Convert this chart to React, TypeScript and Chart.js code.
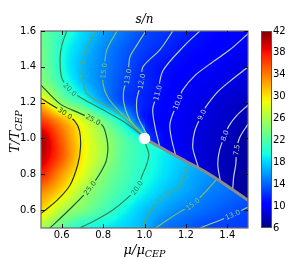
import React, { useEffect, useRef } from "react";
import { Chart, registerables } from "chart.js";

Chart.register(...registerables);

// ---------------- data ----------------
// field s/n sampled on a regular grid (mu/mu_CEP across, T/T_CEP down the rows, from T=0.5 up)
const muNodes = [0.5, 0.6, 0.7, 0.8, 0.9, 1.0, 1.1, 1.2, 1.3, 1.4, 1.5];
const tNodes = [0.5, 0.6, 0.7, 0.8, 0.9, 1.0, 1.1, 1.2, 1.3, 1.4, 1.5, 1.6];

// lower-T branch (and the smooth crossover region)
const snLower = [
  [26.0, 22.7, 19.9, 19.0, 18.0, 16.8, 14.6, 13.9, 12.9, 12.7, 12.5],
  [30.5, 26.3, 24.0, 21.7, 19.4, 17.4, 16.1, 14.95, 14.2, 13.5, 12.9],
  [33.5, 30.2, 25.8, 23.2, 21.05, 19.1, 17.4, 16.3, 15.1, 14.4, 13.7],
  [37.5, 32.9, 28.4, 24.4, 22.0, 20.0, 18.4, 16.9, 15.8, 14.8, 14.0],
  [40.0, 35.5, 29.7, 25.9, 22.3, 20.3, 18.7, 17.6, 16.5, 15.4, 14.5],
  [40.5, 35.0, 29.5, 25.7, 22.2, 19.5, 18.8, 17.8, 16.5, 15.5, 14.5],
  [36.5, 32.5, 28.0, 23.5, 18.7, 11.6, 10.3, 9.5, 8.85, 8.2, 7.5],
  [31.0, 24.6, 21.1, 16.5, 13.0, 11.6, 10.45, 9.75, 9.07, 8.5, 8.0],
  [25.0, 21.2, 17.6, 15.0, 13.0, 11.8, 10.8, 10.0, 9.5, 9.05, 8.7],
  [23.8, 19.9, 17.0, 15.1, 13.4, 11.9, 10.95, 10.5, 10.07, 9.5, 9.0],
  [23.5, 20.0, 17.5, 15.4, 13.8, 12.6, 11.8, 10.95, 10.5, 10.05, 9.6],
  [23.0, 20.8, 18.3, 16.25, 14.55, 13.05, 12.3, 11.5, 10.85, 10.4, 10.0],
];

// upper branch above the first-order line: mu = 1.0..1.5, T = 0.5..1.0
const snUpper = [
  [13.0, 10.5, 9.5, 8.4, 7.3, 6.5],
  [13.0, 10.5, 9.5, 8.4, 7.4, 6.6],
  [13.0, 10.4, 9.5, 8.5, 7.5, 6.7],
  [13.0, 10.4, 9.5, 8.5, 7.7, 7.0],
  [13.2, 10.4, 9.5, 8.5, 7.75, 7.0],
  [13.5, 10.5, 9.35, 8.6, 7.9, 7.2],
];

// first-order transition line
const transitionMu = [1.0, 1.1, 1.2, 1.3, 1.4, 1.5];
const transitionT = [1.0, 0.935, 0.873, 0.81, 0.735, 0.655];

const cepPoint = { x: 1.0, y: 1.0 };

const xTicks = [0.6, 0.8, 1.0, 1.2, 1.4];
const yTicks = [0.6, 0.8, 1.0, 1.2, 1.4, 1.6];
const cbTicks = [6, 10, 14, 18, 22, 26, 30, 34, 38, 42];
const colorMin = 6;
const colorMax = 42;

// contour lines (mu, T)
const contour30 = [[0.5, 1.225], [0.553, 1.186], [0.616, 1.14], [0.664, 1.096], [0.686, 1.043], [0.691, 0.952], [0.678, 0.856], [0.64, 0.739], [0.577, 0.654], [0.51, 0.59], [0.5, 0.582]];
const contour25 = [[0.5, 1.298], [0.592, 1.193], [0.688, 1.14], [0.752, 1.105], [0.799, 1.069], [0.817, 1.007], [0.823, 0.936], [0.809, 0.856], [0.736, 0.723], [0.64, 0.606], [0.543, 0.5]];
const contour20 = [[0.624, 1.6], [0.601, 1.521], [0.592, 1.447], [0.6, 1.34], [0.64, 1.273], [0.703, 1.22], [0.799, 1.16], [0.896, 1.096], [0.986, 1.016], [1.007, 0.963], [1.021, 0.91], [1.011, 0.856], [0.992, 0.803], [0.963, 0.723], [0.905, 0.654], [0.847, 0.601], [0.77, 0.548], [0.688, 0.5]];
const contour17a = [[0.76, 1.6], [0.727, 1.521], [0.704, 1.447], [0.699, 1.394], [0.7, 1.34], [0.72, 1.252], [0.785, 1.202], [0.881, 1.133], [0.968, 1.043], [0.997, 1.005]];
const contour15a = [[0.867, 1.6], [0.818, 1.495], [0.804, 1.378], [0.799, 1.309], [0.823, 1.229], [0.881, 1.149], [0.968, 1.053], [0.997, 1.011]];
const contour13a = [[1.007, 1.6], [0.963, 1.521], [0.929, 1.452], [0.92, 1.346], [0.9, 1.271], [0.9, 1.202], [0.929, 1.106], [0.987, 1.027], [1.0, 1.005]];
const contour12 = [[1.137, 1.6], [1.074, 1.495], [0.992, 1.399], [0.986, 1.319], [0.963, 1.218], [0.968, 1.122], [1.01, 1.027], [1.026, 0.984]];
const contour11 = [[1.267, 1.6], [1.195, 1.521], [1.089, 1.378], [1.064, 1.255], [1.04, 1.165], [1.05, 1.069], [1.074, 0.952]];
const contour10 = [[1.5, 1.585], [1.412, 1.495], [1.315, 1.415], [1.243, 1.351], [1.185, 1.271], [1.161, 1.202], [1.132, 1.122], [1.122, 1.069], [1.132, 0.989], [1.151, 0.904]];
const contour9 = [[1.5, 1.399], [1.412, 1.319], [1.349, 1.255], [1.296, 1.176], [1.277, 1.132], [1.243, 1.043], [1.233, 0.952], [1.248, 0.883], [1.262, 0.835]];
const contour8 = [[1.5, 1.186], [1.445, 1.128], [1.407, 1.069], [1.388, 1.016], [1.363, 0.936], [1.354, 0.856], [1.366, 0.763]];
const contour75 = [[1.5, 1.08], [1.46, 1.005], [1.445, 0.936], [1.441, 0.856], [1.431, 0.787], [1.426, 0.713]];
const contour17b = [[1.214, 0.864], [1.195, 0.793], [1.161, 0.723], [1.089, 0.67], [1.035, 0.601], [1.007, 0.553], [0.992, 0.5]];
const contour15b = [[1.349, 0.773], [1.291, 0.697], [1.233, 0.633], [1.171, 0.59], [1.108, 0.543], [1.055, 0.5]];
const contour13b = [[1.5, 0.617], [1.426, 0.574], [1.339, 0.532], [1.267, 0.5]];

const contourLines = [
  { level: 30, points: contour30, labelAt: [2] },
  { level: 25, points: contour25, labelAt: [3, 8] },
  { level: 20, points: contour20, labelAt: [4, 13] },
  { level: 17, points: contour17a, labelAt: [3] },
  { level: 15, points: contour15a, labelAt: [2] },
  { level: 13, points: contour13a, labelAt: [3] },
  { level: 12, points: contour12, labelAt: [3] },
  { level: 11, points: contour11, labelAt: [3] },
  { level: 10, points: contour10, labelAt: [5] },
  { level: 9, points: contour9, labelAt: [4] },
  { level: 8, points: contour8, labelAt: [3] },
  { level: 7.5, points: contour75, labelAt: [2] },
  { level: 17, points: contour17b, labelAt: [3] },
  { level: 15, points: contour15b, labelAt: [2] },
  { level: 13, points: contour13b, labelAt: [1] },
];

// ---------------- helpers ----------------
const clamp = (v: number, a: number, b: number) => Math.max(a, Math.min(b, v));

function interpStops(stops: number[][], t: number) {
  if (t <= stops[0][0]) return stops[0][1];
  for (let k = 1; k < stops.length; k++) {
    if (t <= stops[k][0]) {
      const [t0, v0] = stops[k - 1];
      const [t1, v1] = stops[k];
      return v0 + ((v1 - v0) * (t - t0)) / (t1 - t0);
    }
  }
  return stops[stops.length - 1][1];
}

const jetR = [[0, 0], [0.35, 0], [0.66, 1], [0.89, 1], [1, 0.5]];
const jetG = [[0, 0], [0.125, 0], [0.375, 1], [0.64, 1], [0.91, 0], [1, 0]];
const jetB = [[0, 0.5], [0.11, 1], [0.34, 1], [0.65, 0], [1, 0]];

function jet(v: number): [number, number, number] {
  const t = clamp((v - colorMin) / (colorMax - colorMin), 0, 1);
  return [
    Math.round(255 * interpStops(jetR, t)),
    Math.round(255 * interpStops(jetG, t)),
    Math.round(255 * interpStops(jetB, t)),
  ];
}

const lineStops: [number, number[]][] = [
  [7.5, [205, 216, 210]],
  [11, [188, 212, 180]],
  [13, [158, 204, 130]],
  [15, [128, 190, 104]],
  [17, [96, 168, 92]],
  [20, [52, 130, 76]],
  [25, [30, 88, 56]],
  [30, [18, 56, 36]],
];
function levelColor(v: number) {
  let c = lineStops[0][1];
  for (let k = 1; k < lineStops.length; k++) {
    const [v0, c0] = lineStops[k - 1];
    const [v1, c1] = lineStops[k];
    if (v <= v1) {
      const f = clamp((v - v0) / (v1 - v0), 0, 1);
      c = c0.map((x, i) => Math.round(x + (c1[i] - x) * f));
      return `rgb(${c[0]},${c[1]},${c[2]})`;
    }
    c = c1;
  }
  return `rgb(${c[0]},${c[1]},${c[2]})`;
}

function lineT(mu: number) {
  for (let k = 1; k < transitionMu.length; k++) {
    if (mu <= transitionMu[k]) {
      const f = (mu - transitionMu[k - 1]) / (transitionMu[k] - transitionMu[k - 1]);
      return transitionT[k - 1] + f * (transitionT[k] - transitionT[k - 1]);
    }
  }
  return transitionT[transitionT.length - 1];
}

const lowerAt = (i: number, j: number) => snLower[j][i];
const upperStart = muNodes.indexOf(transitionMu[0]);
const upperAt = (i: number, j: number) =>
  i >= upperStart && j < snUpper.length ? snUpper[j][i - upperStart] : snLower[j][i];

function cr(p0: number, p1: number, p2: number, p3: number, t: number) {
  return 0.5 * (2 * p1 + (-p0 + p2) * t + (2 * p0 - 5 * p1 + 4 * p2 - p3) * t * t + (-p0 + 3 * p1 - 3 * p2 + p3) * t * t * t);
}

function sample(get: (i: number, j: number) => number, mu: number, T: number) {
  const nx = muNodes.length, ny = tNodes.length;
  const fx = (mu - muNodes[0]) / (muNodes[1] - muNodes[0]);
  const fy = (T - tNodes[0]) / (tNodes[1] - tNodes[0]);
  const i = clamp(Math.floor(fx), 0, nx - 2);
  const j = clamp(Math.floor(fy), 0, ny - 2);
  const tx = fx - i, ty = fy - j;
  const g = (a: number, b: number) => get(clamp(a, 0, nx - 1), clamp(b, 0, ny - 1));
  const r: number[] = [];
  for (let m = -1; m <= 2; m++) r.push(cr(g(i - 1, j + m), g(i, j + m), g(i + 1, j + m), g(i + 2, j + m), tx));
  return cr(r[0], r[1], r[2], r[3], ty);
}

function field(mu: number, T: number) {
  if (mu > transitionMu[0] && T > lineT(mu)) return sample(upperAt, mu, T);
  return sample(lowerAt, mu, T);
}

// ---------------- plugins ----------------
const heatPlugin = {
  id: "heat",
  beforeDatasetsDraw(chart: any) {
    const { ctx, chartArea: a, scales } = chart;
    const x = scales.x, y = scales.y;
    const w = Math.round(a.right - a.left), h = Math.round(a.bottom - a.top);
    const off = document.createElement("canvas");
    off.width = w;
    off.height = h;
    const octx = off.getContext("2d")!;
    const img = octx.createImageData(w, h);
    for (let j = 0; j < h; j++) {
      const T = y.getValueForPixel(a.top + j + 0.5);
      for (let i = 0; i < w; i++) {
        const mu = x.getValueForPixel(a.left + i + 0.5);
        const [r, g, b] = jet(field(mu, T));
        const k = (j * w + i) * 4;
        img.data[k] = r;
        img.data[k + 1] = g;
        img.data[k + 2] = b;
        img.data[k + 3] = 255;
      }
    }
    octx.putImageData(img, 0, 0);
    ctx.drawImage(off, a.left, a.top);
    chart.$heat = off;
  },
};

const overlayPlugin = {
  id: "overlay",
  afterDatasetsDraw(chart: any) {
    const { ctx, chartArea: a, scales } = chart;
    const x = scales.x, y = scales.y;
    const heat = chart.$heat;
    ctx.save();
    ctx.font = "7px 'DejaVu Sans'";
    ctx.textAlign = "center";
    ctx.textBaseline = "middle";
    contourLines.forEach((c) => {
      c.labelAt.forEach((idx) => {
        const p = c.points[idx];
        const p0 = c.points[Math.max(idx - 1, 0)];
        const p1 = c.points[Math.min(idx + 1, c.points.length - 1)];
        const px = x.getPixelForValue(p[0]), py = y.getPixelForValue(p[1]);
        const dx = x.getPixelForValue(p1[0]) - x.getPixelForValue(p0[0]);
        const dy = y.getPixelForValue(p1[1]) - y.getPixelForValue(p0[1]);
        let ang = Math.atan2(dy, dx);
        if (ang >= Math.PI / 2 - 1e-6) ang -= Math.PI;
        if (ang < -Math.PI / 2) ang += Math.PI;
        const text = c.level.toFixed(1);
        const tw = ctx.measureText(text).width;
        // inline gap
        ctx.save();
        ctx.beginPath();
        ctx.rect(a.left, a.top, a.right - a.left, a.bottom - a.top);
        ctx.clip();
        ctx.translate(px, py);
        ctx.rotate(ang);
        ctx.beginPath();
        ctx.rect(-tw / 2 - 1.5, -3.5, tw + 3, 7);
        ctx.clip();
        ctx.rotate(-ang);
        ctx.translate(-px, -py);
        if (heat) ctx.drawImage(heat, a.left, a.top);
        ctx.restore();
        ctx.save();
        ctx.translate(px, py);
        ctx.rotate(ang);
        ctx.fillStyle = levelColor(c.level);
        ctx.fillText(text, 0, 0.5);
        ctx.restore();
      });
    });
    ctx.restore();
  },
  afterDraw(chart: any) {
    const { ctx, chartArea: a, scales } = chart;
    const x = scales.x, y = scales.y, cb = scales.cb;
    ctx.save();
    // frame
    ctx.strokeStyle = "#6a6a6a";
    ctx.lineWidth = 1.2;
    ctx.strokeRect(a.left, a.top, a.right - a.left, a.bottom - a.top);
    // inward ticks
    ctx.strokeStyle = "#111";
    ctx.lineWidth = 1;
    ctx.beginPath();
    xTicks.forEach((v) => {
      const px = Math.round(x.getPixelForValue(v)) + 0.5;
      ctx.moveTo(px, a.bottom);
      ctx.lineTo(px, a.bottom - 4);
      ctx.moveTo(px, a.top);
      ctx.lineTo(px, a.top + 4);
    });
    yTicks.forEach((v) => {
      const py = Math.round(y.getPixelForValue(v)) + 0.5;
      ctx.moveTo(a.left, py);
      ctx.lineTo(a.left + 4, py);
      ctx.moveTo(a.right, py);
      ctx.lineTo(a.right - 4, py);
    });
    ctx.stroke();
    // colorbar
    const cbx = a.right + 13, cbw = 11;
    const top = Math.round(cb.getPixelForValue(colorMax));
    const bot = Math.round(cb.getPixelForValue(colorMin));
    for (let py = top; py < bot; py++) {
      const [r, g, b] = jet(cb.getValueForPixel(py + 0.5));
      ctx.fillStyle = `rgb(${r},${g},${b})`;
      ctx.fillRect(cbx, py, cbw, 1);
    }
    ctx.strokeStyle = "#555";
    ctx.lineWidth = 1;
    ctx.strokeRect(cbx + 0.5, top + 0.5, cbw - 1, bot - top - 1);
    // title and axis labels
    ctx.fillStyle = "#000";
    const cx = (a.left + a.right) / 2;
    const cy = (a.top + a.bottom) / 2;
    ctx.textBaseline = "alphabetic";
    ctx.textAlign = "center";
    ctx.font = "italic 12px 'DejaVu Serif'";
    ctx.fillText("s/n", cx, 22.5);
    const drawSub = (main: string, sub: string) => {
      ctx.font = "italic 13px 'DejaVu Serif'";
      const w1 = ctx.measureText(main).width;
      ctx.font = "italic 9.5px 'DejaVu Serif'";
      const w2 = ctx.measureText(sub).width;
      const start = -(w1 + w2) / 2;
      ctx.textAlign = "left";
      ctx.font = "italic 13px 'DejaVu Serif'";
      ctx.fillText(main, start, 0);
      ctx.font = "italic 9.5px 'DejaVu Serif'";
      ctx.fillText(sub, start + w1, 3);
    };
    ctx.save();
    ctx.translate(cx, 254);
    drawSub("\u03bc/\u03bc", "CEP");
    ctx.restore();
    ctx.save();
    ctx.translate(18.5, cy + 2);
    ctx.rotate(-Math.PI / 2);
    drawSub("T/T", "CEP");
    ctx.restore();
    ctx.restore();
  },
};

// ---------------- component ----------------
export default function App() {
  const ref = useRef<HTMLCanvasElement>(null);
  useEffect(() => {
    document.body.style.margin = "0";
    const canvas = ref.current!;
    const tickFont = { family: "'DejaVu Sans'", size: 10 };
    const datasets: any[] = [
      {
        data: [cepPoint],
        pointRadius: 5.8,
        pointBackgroundColor: "#ffffff",
        pointBorderColor: "#ffffff",
        pointBorderWidth: 0,
        showLine: false,
        clip: false,
      },
      {
        data: transitionMu.map((m, i) => ({ x: m, y: transitionT[i] })),
        showLine: true,
        borderColor: "#8c8c8c",
        borderWidth: 3,
        pointRadius: 0,
        tension: 0.3,
        clip: 0,
      },
      ...contourLines.map((c) => ({
        data: c.points.map(([mx, ty]) => ({ x: mx, y: ty })),
        showLine: true,
        borderColor: levelColor(c.level),
        borderWidth: 1.15,
        pointRadius: 0,
        tension: 0.3,
        clip: 0,
      })),
    ];
    const chart = new Chart(canvas, {
      type: "scatter",
      data: { datasets },
      options: {
        animation: false,
        responsive: false,
        devicePixelRatio: 1,
        events: [],
        layout: { padding: { top: 25, left: 0, right: 0, bottom: 0 }, autoPadding: false },
        plugins: { legend: { display: false }, tooltip: { enabled: false } },
        scales: {
          x: {
            type: "linear",
            position: "bottom",
            min: 0.5,
            max: 1.5,
            grid: { display: false, drawTicks: false },
            border: { display: false },
            ticks: { font: tickFont, color: "#000", padding: 1, autoSkip: false, maxRotation: 0, callback: (v: any) => Number(v).toFixed(1) },
            afterBuildTicks: (s: any) => { s.ticks = xTicks.map((v) => ({ value: v })); },
            afterFit: (s: any) => { s.height = 27; },
          },
          y: {
            type: "linear",
            position: "left",
            min: 0.5,
            max: 1.6,
            grid: { display: false, drawTicks: false },
            border: { display: false },
            ticks: { font: tickFont, color: "#000", padding: 5, autoSkip: false, callback: (v: any) => Number(v).toFixed(1) },
            afterBuildTicks: (s: any) => { s.ticks = yTicks.map((v) => ({ value: v })); },
            afterFit: (s: any) => { s.width = 41; },
          },
          cb: {
            type: "linear",
            position: "right",
            min: colorMin,
            max: colorMax,
            grid: { display: false, drawTicks: false },
            border: { display: false },
            ticks: { font: tickFont, color: "#000", padding: 25, autoSkip: false, callback: (v: any) => String(v) },
            afterBuildTicks: (s: any) => { s.ticks = cbTicks.map((v) => ({ value: v })); },
            afterFit: (s: any) => { s.width = 48; },
          },
        },
      } as any,
      plugins: [heatPlugin, overlayPlugin],
    });
    return () => chart.destroy();
  }, []);
  return (
    <div style={{ width: 296, height: 259 }}>
      <canvas ref={ref} width={296} height={259} style={{ display: "block", width: 296, height: 259 }} />
    </div>
  );
}
